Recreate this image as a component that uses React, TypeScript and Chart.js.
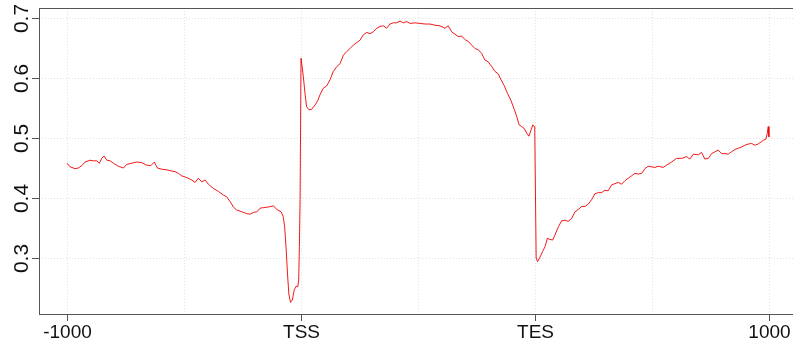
import React, { useEffect, useRef } from "react";
import { Chart, registerables } from "chart.js";

Chart.register(...registerables);

// bin positions: 0 = -1000, 100 = TSS, 200 = TES, 300 = 1000
const BINS = [
  0, 1.3, 3.4, 4.8, 6.3, 7.7, 9.8, 11.2, 12.7, 13.8, 14.8, 15.8, 17.0, 18.4, 19.8, 21.9, 24.1, 25.5, 27.6, 29.8,
  31.9, 33.8, 35.8, 37.3, 38.6, 40.5, 42.6, 44.7, 46.2, 47.6, 49.0, 51.2, 53.3, 54.7, 56.1, 57.6, 59.0, 60.4, 62.5, 64.7,
  66.8, 68.2, 69.7, 71.1, 72.5, 74.7, 76.8, 78.2, 79.6, 81.1, 82.5, 83.9, 86.0, 88.2, 89.6, 91.5, 92.4, 93.0, 93.6, 94.2,
  94.8, 95.5, 96.3, 97.1, 97.9, 98.6, 99.0, 99.3, 99.6, 100.0, 101.0, 101.7, 102.4, 103.4, 104.6, 106.0, 107.1, 108.1, 109.5, 111.0,
  112.4, 113.8, 115.3, 116.7, 118.1, 119.5, 120.9, 122.4, 123.8, 125.2, 126.6, 128.1, 129.5, 130.9, 132.4, 133.8, 135.2, 136.6, 138.0, 139.4,
  140.9, 142.3, 143.7, 145.2, 146.6, 148.7, 150.9, 153.0, 155.1, 157.3, 159.4, 161.5, 162.9, 164.4, 165.8, 167.2, 168.7, 170.1, 171.5, 172.9,
  174.4, 175.8, 177.2, 178.6, 180.0, 181.5, 182.9, 184.3, 185.5, 186.9, 188.3, 189.7, 191.2, 192.2, 193.2, 194.3, 195.4, 196.5, 197.4, 198.3,
  199.1, 199.7, 199.9, 200.5, 201.1, 202.1, 203.3, 204.3, 205.3, 206.4, 207.6, 208.5, 210.0, 211.4, 212.8, 214.2, 215.7, 217.1, 218.5, 220.0,
  221.4, 222.8, 224.2, 225.6, 227.1, 228.5, 229.9, 231.3, 232.8, 234.2, 235.6, 237.0, 238.5, 239.9, 241.3, 242.7, 244.2, 245.6, 247.0, 248.4,
  249.9, 251.3, 252.7, 254.8, 256.3, 258.4, 260.5, 262.7, 264.8, 266.2, 267.7, 269.8, 271.2, 272.6, 274.1, 275.5, 276.9, 278.3, 279.8, 281.2,
  282.6, 284.0, 285.5, 286.9, 288.3, 289.7, 291.2, 292.6, 294.0, 295.4, 296.9, 297.9, 298.7, 299.3, 299.7, 300.0,
];

const SIGNAL = [
  0.458, 0.452, 0.449, 0.450, 0.454, 0.460, 0.463, 0.462, 0.462, 0.458, 0.466, 0.470, 0.463, 0.462, 0.458, 0.453, 0.450, 0.456, 0.458, 0.460,
  0.459, 0.455, 0.454, 0.460, 0.450, 0.448, 0.447, 0.445, 0.444, 0.441, 0.437, 0.434, 0.430, 0.426, 0.433, 0.427, 0.430, 0.423, 0.416, 0.411,
  0.405, 0.402, 0.394, 0.385, 0.380, 0.377, 0.374, 0.373, 0.376, 0.377, 0.383, 0.384, 0.385, 0.387, 0.381, 0.377, 0.369, 0.352, 0.318, 0.275,
  0.240, 0.226, 0.230, 0.247, 0.253, 0.252, 0.263, 0.319, 0.397, 0.633, 0.602, 0.574, 0.552, 0.547, 0.548, 0.555, 0.562, 0.572, 0.583, 0.587,
  0.597, 0.611, 0.619, 0.624, 0.638, 0.644, 0.649, 0.655, 0.659, 0.663, 0.672, 0.676, 0.674, 0.677, 0.683, 0.686, 0.687, 0.683, 0.690, 0.692,
  0.692, 0.695, 0.692, 0.694, 0.691, 0.692, 0.691, 0.690, 0.690, 0.688, 0.687, 0.683, 0.687, 0.677, 0.673, 0.669, 0.670, 0.664, 0.661, 0.655,
  0.649, 0.647, 0.641, 0.630, 0.627, 0.619, 0.611, 0.607, 0.597, 0.587, 0.574, 0.563, 0.547, 0.536, 0.522, 0.519, 0.516, 0.508, 0.503, 0.513,
  0.522, 0.519, 0.518, 0.300, 0.294, 0.301, 0.311, 0.319, 0.333, 0.331, 0.330, 0.338, 0.352, 0.362, 0.363, 0.361, 0.366, 0.377, 0.381, 0.386,
  0.386, 0.390, 0.397, 0.407, 0.409, 0.409, 0.413, 0.412, 0.422, 0.424, 0.426, 0.423, 0.429, 0.433, 0.437, 0.441, 0.440, 0.441, 0.449, 0.453,
  0.452, 0.451, 0.453, 0.451, 0.455, 0.460, 0.466, 0.466, 0.469, 0.465, 0.473, 0.472, 0.476, 0.465, 0.466, 0.474, 0.477, 0.480, 0.474, 0.474,
  0.473, 0.477, 0.481, 0.483, 0.485, 0.488, 0.490, 0.491, 0.488, 0.490, 0.494, 0.497, 0.498, 0.508, 0.519, 0.502,
];

const X_TICK_POS = [0, 100, 200, 300];
const X_TICK_LABELS = ["-1000", "TSS", "TES", "1000"];
const X_GRID = [0, 50, 100, 150, 200, 250, 300];
const Y_TICKS = [0.3, 0.4, 0.5, 0.6, 0.7];
const Y_TICK_LABELS = ["0.3", "0.4", "0.5", "0.6", "0.7"];

const FONT = '"Liberation Sans", Arial, Helvetica, sans-serif';

const rAxesPlugin = {
  id: "rAxes",
  beforeDatasetsDraw(chart: any) {
    const { ctx, chartArea: a, scales } = chart;
    const xs = scales.x;
    const ys = scales.y;
    ctx.save();
    ctx.strokeStyle = "#e2e2e2";
    ctx.lineWidth = 1;
    ctx.setLineDash([1, 2]);
    for (const g of X_GRID) {
      const px = Math.round(xs.getPixelForValue(g)) + 0.5;
      ctx.beginPath();
      ctx.moveTo(px, a.top);
      ctx.lineTo(px, a.bottom);
      ctx.stroke();
    }
    for (const g of Y_TICKS) {
      const py = Math.round(ys.getPixelForValue(g)) + 0.5;
      ctx.beginPath();
      ctx.moveTo(a.left, py);
      ctx.lineTo(a.right, py);
      ctx.stroke();
    }
    ctx.restore();
  },
  afterDraw(chart: any) {
    const { ctx, chartArea: a, scales } = chart;
    const xs = scales.x;
    const ys = scales.y;
    ctx.save();
    ctx.strokeStyle = "#555";
    ctx.lineWidth = 1;
    ctx.setLineDash([]);
    ctx.strokeRect(a.left + 0.5, a.top + 0.5, a.right - a.left, a.bottom - a.top);
    // x ticks
    ctx.fillStyle = "#111";
    ctx.font = `19px ${FONT}`;
    ctx.textAlign = "center";
    ctx.textBaseline = "alphabetic";
    X_TICK_POS.forEach((v, i) => {
      const px = Math.round(xs.getPixelForValue(v)) + 0.5;
      ctx.beginPath();
      ctx.moveTo(px, a.bottom);
      ctx.lineTo(px, a.bottom + 7);
      ctx.stroke();
      ctx.fillText(X_TICK_LABELS[i], px, a.bottom + 24);
    });
    // y ticks
    ctx.font = `21px ${FONT}`;
    Y_TICKS.forEach((v, i) => {
      const py = Math.round(ys.getPixelForValue(v)) + 0.5;
      ctx.beginPath();
      ctx.moveTo(a.left - 7, py);
      ctx.lineTo(a.left, py);
      ctx.stroke();
      ctx.save();
      ctx.translate(28, py);
      ctx.rotate(-Math.PI / 2);
      ctx.fillText(Y_TICK_LABELS[i], 0, 0);
      ctx.restore();
    });
    ctx.restore();
  },
};

export default function App() {
  const ref = useRef<HTMLCanvasElement | null>(null);
  useEffect(() => {
    if (!ref.current) return;
    const chart = new Chart(ref.current, {
      type: "line",
      data: {
        datasets: [
          {
            data: BINS.map((b, i) => ({ x: b, y: SIGNAL[i] })),
            borderColor: "rgba(240, 0, 0, 0.9)",
            borderWidth: 1,
            pointRadius: 0,
            tension: 0,
            fill: false,
          },
        ],
      },
      options: {
        animation: false,
        responsive: false,
        maintainAspectRatio: false,
        devicePixelRatio: 1,
        layout: { padding: { left: 39, top: 8, right: 0, bottom: 27 } },
        plugins: { legend: { display: false }, tooltip: { enabled: false } },
        scales: {
          x: { type: "linear", min: -12, max: 312, display: false },
          y: { type: "linear", min: 0.2067, max: 0.7167, display: false },
        },
      },
      plugins: [rAxesPlugin],
    });
    return () => chart.destroy();
  }, []);
  return (
    <div
      style={{
        position: "fixed",
        left: 0,
        top: 0,
        width: 793,
        height: 341,
        overflow: "hidden",
        background: "#fff",
      }}
    >
      <canvas ref={ref} width={797} height={341} style={{ display: "block" }} />
    </div>
  );
}
